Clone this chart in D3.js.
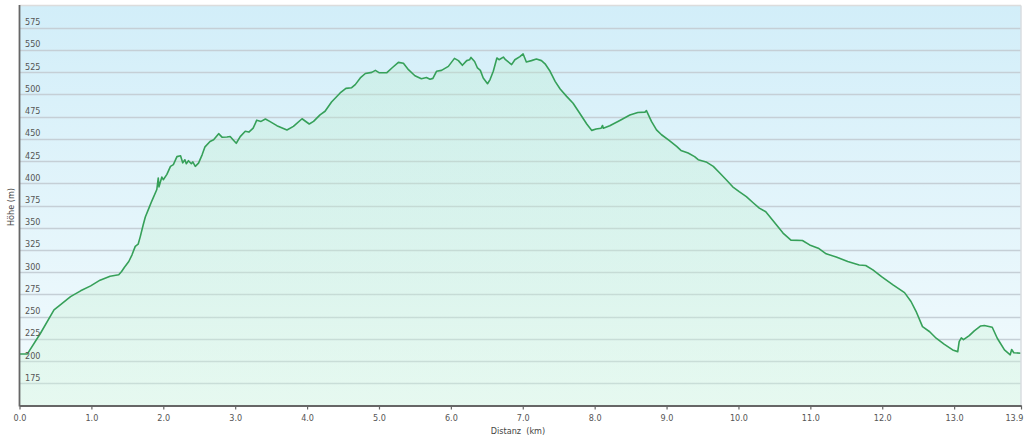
<!DOCTYPE html>
<html>
<head>
<meta charset="utf-8">
<script src="https://cdn.jsdelivr.net/npm/d3@7"></script>
<style>
  html, body { margin: 0; padding: 0; background: #ffffff; }
  svg { display: block; }
  text { font-family: "DejaVu Sans Condensed", "DejaVu Sans", Verdana, sans-serif; font-stretch: condensed; }
</style>
</head>
<body>
<svg id="chart" width="1024" height="441"></svg>
<script>
const distKm = [
  0, 0.11, 0.29, 0.48, 0.55, 0.71, 0.85, 0.99, 1.12, 1.26,
  1.38, 1.42, 1.46, 1.52, 1.565, 1.61, 1.65, 1.68, 1.72, 1.75,
  1.80, 1.84, 1.91, 1.93, 1.94, 1.98, 2.00, 2.05, 2.10, 2.14,
  2.19, 2.24, 2.27, 2.30, 2.32, 2.35, 2.39, 2.41, 2.445, 2.49,
  2.54, 2.58, 2.65, 2.70, 2.77, 2.82, 2.885, 2.93, 2.97, 3.015,
  3.07, 3.14, 3.19, 3.25, 3.30, 3.36, 3.42, 3.48, 3.58, 3.72,
  3.81, 3.93, 4.03, 4.09, 4.18, 4.25, 4.34, 4.46, 4.54, 4.62,
  4.67, 4.74, 4.81, 4.90, 4.95, 5.00, 5.11, 5.18, 5.27, 5.34,
  5.41, 5.50, 5.59, 5.66, 5.71, 5.75, 5.80, 5.87, 5.965, 6.05,
  6.105, 6.16, 6.22, 6.26, 6.28, 6.33, 6.37, 6.41, 6.45, 6.51,
  6.545, 6.59, 6.64, 6.67, 6.73, 6.76, 6.845, 6.89, 6.96, 7.005,
  7.05, 7.12, 7.19, 7.26, 7.31, 7.38, 7.45, 7.52, 7.61, 7.70,
  7.79, 7.89, 7.96, 8.02, 8.09, 8.11, 8.12, 8.21, 8.35, 8.49,
  8.60, 8.70, 8.72, 8.79, 8.86, 8.93, 9.04, 9.14, 9.20, 9.30,
  9.39, 9.44, 9.55, 9.65, 9.74, 9.83, 9.92, 10.01, 10.11, 10.20,
  10.29, 10.38, 10.53, 10.62, 10.73, 10.89, 10.99, 11.11, 11.22, 11.36,
  11.52, 11.68, 11.77, 11.87, 11.99, 12.15, 12.31, 12.40, 12.47, 12.56,
  12.66, 12.75, 12.86, 12.98, 13.05, 13.07, 13.10, 13.13, 13.21, 13.28,
  13.37, 13.42, 13.53, 13.60, 13.70, 13.78, 13.80, 13.83, 13.93
];
const elevM = [
  208, 208, 231, 257.5, 262, 272.5, 279, 284.6, 291, 295.5,
  297, 300.7, 305.6, 312, 319.5, 329, 331.5, 340, 353, 362,
  372, 380, 393, 406, 396, 407, 404, 410, 419, 421,
  430, 431, 423, 426.5, 422, 425.4, 422, 424, 419, 422.7,
  432, 441, 447, 449, 455.8, 451.7, 452, 452.6, 449, 445,
  452.5, 458.5, 457.6, 462, 471, 469.6, 472.3, 469.6, 464.8, 460,
  464, 472.6, 466.7, 469.6, 477, 481, 491.5, 501.6, 506.8, 507.5,
  511, 518.5, 523.5, 524.8, 527, 524.5, 524.4, 529.7, 536, 535,
  527.8, 521, 517.7, 519, 517, 518, 526, 527, 531.5, 540.5,
  538, 532.7, 538, 539, 541.6, 537, 529.7, 527, 518.5, 512,
  516.7, 526, 541, 539, 542, 539, 533.5, 539, 542.5, 545.5,
  536.5, 538, 539.7, 538, 534.4, 526, 514.6, 506, 497.8, 490,
  479, 466.7, 459.5, 461, 462, 465, 462, 464.8, 470.7, 476.8,
  479.7, 480, 481.7, 469.6, 460, 454.6, 448, 441.5, 437, 434,
  430, 426.5, 424, 419, 411.5, 404, 396, 390.6, 385, 378.4,
  372, 368, 353, 344, 336, 335.6, 330.7, 327, 320.6, 317,
  312, 308, 307.5, 302.6, 295, 285.7, 277, 267, 256, 238.7,
  233, 225.7, 219, 212.5, 210.6, 221.8, 226, 224, 228.6, 234,
  239.5, 240, 238, 225.7, 212.5, 207, 213, 209.3, 208.8
];
const xTickValues = [0, 1, 2, 3, 4, 5, 6, 7, 8, 9, 10, 11, 12, 13, 13.93];
const xTickLabels = ["0.0","1.0","2.0","3.0","4.0","5.0","6.0","7.0","8.0","9.0","10.0","11.0","12.0","13.0","13.9"];
const yTickValues = [175, 200, 225, 250, 275, 300, 325, 350, 375, 400, 425, 450, 475, 500, 525, 550, 575];
const xTitle = "Distanz  (km)";
const yTitle = "Höhe (m)";

const data = distKm.map((d, i) => ({ d: d, e: elevM[i] }));

const L = 19.5, R = 1021, T = 5.5, B = 405.5;
const x = d3.scaleLinear().domain([0, 13.93]).range([L, R]);
const y = d3.scaleLinear().domain([150, 600]).range([B, T]);

const svg = d3.select("#chart");
const defs = svg.append("defs");
const bg = defs.append("linearGradient").attr("id", "bg").attr("x1", 0).attr("y1", 0).attr("x2", 0).attr("y2", 1);
bg.append("stop").attr("offset", "0%").attr("stop-color", "#d2eef9");
bg.append("stop").attr("offset", "55%").attr("stop-color", "#e4f5fb");
bg.append("stop").attr("offset", "100%").attr("stop-color", "#f3fbfd");
const ag = defs.append("linearGradient").attr("id", "ag")
  .attr("gradientUnits", "userSpaceOnUse").attr("x1", 0).attr("x2", 0).attr("y1", T).attr("y2", B);
ag.append("stop").attr("offset", "0%").attr("stop-color", "#b4ebc6").attr("stop-opacity", 0.28);
ag.append("stop").attr("offset", "100%").attr("stop-color", "#d2f5dc").attr("stop-opacity", 0.4);

svg.append("rect").attr("x", L).attr("y", T).attr("width", R - L).attr("height", B - T).attr("fill", "url(#bg)");

// grid lines
svg.append("g").selectAll("line").data(yTickValues).join("line")
  .attr("x1", L).attr("x2", R)
  .attr("y1", d => Math.round(y(d)) + 0.5).attr("y2", d => Math.round(y(d)) + 0.5)
  .attr("stroke", "#c5cfd6").attr("stroke-width", 1.5);

// area + line
svg.append("path").datum(data)
  .attr("d", d3.area().x(p => x(p.d)).y0(B).y1(p => y(p.e)))
  .attr("fill", "url(#ag)");
svg.append("path").datum(data)
  .attr("d", d3.line().x(p => x(p.d)).y(p => y(p.e)))
  .attr("fill", "none").attr("stroke", "#36a059").attr("stroke-width", 1.6).attr("stroke-linejoin", "round");

// frame
svg.append("line").attr("x1", L).attr("x2", R).attr("y1", T).attr("y2", T).attr("stroke", "#dcdcdc").attr("stroke-width", 1.5);
svg.append("line").attr("x1", R).attr("x2", R).attr("y1", T).attr("y2", B).attr("stroke", "#d8dde0").attr("stroke-width", 1.5);

// y tick labels inside plot
svg.append("g").selectAll("text").data(yTickValues).join("text")
  .attr("x", 25).attr("y", d => y(d) - 2.5)
  .attr("font-size", 9).attr("fill", "#555")
  .text(d => d);

// axes
const xAxis = d3.axisBottom(x).tickValues(xTickValues).tickFormat((d, i) => xTickLabels[i]).tickSize(4).tickSizeOuter(0);
const gx = svg.append("g").attr("transform", `translate(0,${B})`).call(xAxis);
gx.attr("font-family", null);
gx.select(".domain").attr("stroke", "#666").attr("stroke-width", 1.8);
gx.selectAll(".tick line").attr("stroke", "#666").attr("stroke-width", 1.2);
gx.selectAll(".tick text").attr("font-size", 9).attr("fill", "#555").attr("dy", "0.9em");
gx.selectAll(".tick text").filter((d, i, n) => i === n.length - 1)
  .attr("text-anchor", "end").attr("dx", 2);

svg.append("line").attr("x1", L).attr("x2", L).attr("y1", T - 0.5).attr("y2", B + 1).attr("stroke", "#666").attr("stroke-width", 1.8);

// titles
svg.append("text").attr("x", 518).attr("y", 434).attr("text-anchor", "middle")
  .attr("font-size", 9).attr("fill", "#444").style("white-space", "pre").text(xTitle);
svg.append("text").attr("transform", "translate(14,207) rotate(-90)").attr("text-anchor", "middle")
  .attr("font-size", 9).attr("fill", "#444").text(yTitle);
</script>
</body>
</html>
